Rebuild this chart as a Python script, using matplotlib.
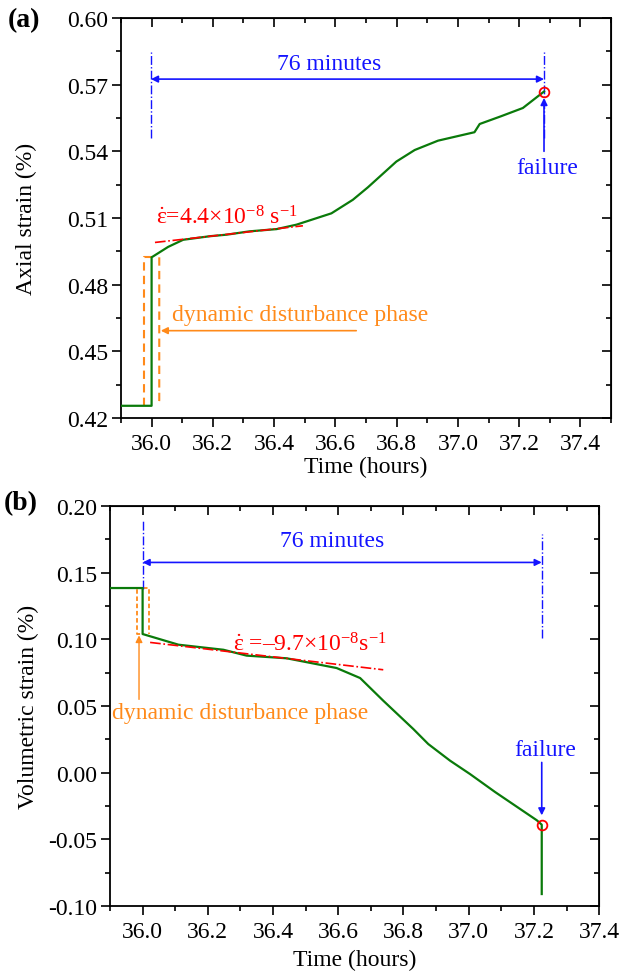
import matplotlib
matplotlib.use("Agg")
import matplotlib.pyplot as plt
from matplotlib.ticker import MultipleLocator, FormatStrFormatter, FuncFormatter

plt.rcParams['font.family'] = ['Liberation Serif', 'DejaVu Serif']
plt.rcParams['mathtext.fontset'] = 'custom'
plt.rcParams['mathtext.rm'] = 'Liberation Serif'
plt.rcParams['mathtext.it'] = 'Liberation Serif'
plt.rcParams['mathtext.bf'] = 'Liberation Serif:bold'

# ---- Panel (a): axial strain vs time ----
axial_t = [35.90, 36.00, 36.00, 36.054, 36.103, 36.19, 36.245, 36.32, 36.408,
           36.473, 36.587, 36.657, 36.706, 36.799, 36.859, 36.935, 37.054,
           37.071, 37.141, 37.212, 37.281]
axial_e = [0.4255, 0.4255, 0.4923, 0.4970, 0.5002, 0.5018, 0.5025, 0.5040, 0.5050,
           0.5070, 0.5121, 0.5182, 0.5238, 0.5354, 0.5406, 0.5448, 0.5486,
           0.5523, 0.5558, 0.5595, 0.5669]
axial_fail = (37.281, 0.5669)
axial_rate_t = [36.011, 36.494]
axial_rate_e = [0.4990, 0.5065]

# ---- Panel (b): volumetric strain vs time ----
vol_t = [35.90, 36.00, 36.00, 36.110, 36.248, 36.319, 36.442, 36.595, 36.667,
         36.738, 36.830, 36.876, 36.943, 37.004, 37.081, 37.209, 37.224, 37.224]
vol_e = [0.1385, 0.1385, 0.1040, 0.0960, 0.0922, 0.0878, 0.0858, 0.0785, 0.0710,
         0.0540, 0.0328, 0.0215, 0.0090, -0.0010, -0.0145, -0.0357, -0.0390, -0.0910]
vol_fail = (37.224, -0.0390)
vol_rate_t = [36.023, 36.738]
vol_rate_e = [0.0977, 0.0772]

GREEN = '#0a7a0a'
RED = '#ff0000'
BLUE = '#1414ff'
ORANGE = '#ff8a1a'
FS = 17

fig = plt.figure(figsize=(6.30, 9.79), dpi=100)
ax1 = fig.add_axes([0.192, 0.572, 0.778, 0.4086])
ax2 = fig.add_axes([0.1746, 0.0735, 0.7764, 0.4086])


def style_axes(ax, xlim, ylim, ymajor, yformatter):
    ax.set_xlim(*xlim)
    ax.set_ylim(*ylim)
    ax.xaxis.set_major_locator(MultipleLocator(0.2))
    ax.xaxis.set_minor_locator(MultipleLocator(0.1))
    ax.xaxis.set_major_formatter(FormatStrFormatter('%.1f'))
    ax.yaxis.set_major_locator(MultipleLocator(ymajor))
    ax.yaxis.set_minor_locator(MultipleLocator(ymajor / 2))
    ax.yaxis.set_major_formatter(yformatter)
    for s in ax.spines.values():
        s.set_linewidth(1.3)
    ax.tick_params(which='both', direction='out', width=1.2, labelsize=FS)
    ax.tick_params(which='major', length=6.5)
    ax.tick_params(which='minor', length=3.8)
    ax.tick_params(axis='y', pad=3)
    ax.tick_params(axis='x', pad=4.5)
    # top / right ticks pointing inward
    top = ax.secondary_xaxis('top')
    top.xaxis.set_major_locator(MultipleLocator(0.2))
    top.xaxis.set_minor_locator(MultipleLocator(0.1))
    top.tick_params(which='both', direction='in', width=1.2, labeltop=False)
    top.tick_params(which='major', length=6.5)
    top.tick_params(which='minor', length=3.8)
    right = ax.secondary_yaxis('right')
    right.yaxis.set_major_locator(MultipleLocator(ymajor))
    right.yaxis.set_minor_locator(MultipleLocator(ymajor / 2))
    right.tick_params(which='both', direction='in', width=1.2, labelright=False)
    right.tick_params(which='major', length=6.5)
    right.tick_params(which='minor', length=3.8)


signed_fmt = FuncFormatter(lambda v, p: ('-' if v < -1e-9 else '') + f'{abs(v):.2f}')

# ---------------- panel (a) ----------------
style_axes(ax1, (35.9, 37.5), (0.42, 0.60), 0.03, FormatStrFormatter('%.2f'))
ax1.set_xlabel('Time (hours)', fontsize=FS, labelpad=1)
ax1.set_ylabel('Axial strain (%)', fontsize=FS, labelpad=21)
ax1.plot(axial_t, axial_e, color=GREEN, lw=1.6, zorder=3)
ax1.plot(axial_rate_t, axial_rate_e, color=RED, lw=1.2, ls='-.', zorder=4)
ax1.plot(*axial_fail, 'o', ms=7, mfc='none', mec=RED, mew=1.3, zorder=5)

# disturbance phase bracket
ax1.plot([35.976, 35.976, 36.0], [0.4255, 0.4923, 0.4923], color=ORANGE, lw=1.5,
         ls=(0, (4, 2.5)), zorder=2)
ax1.plot([36.025, 36.025, 36.022], [0.4923, 0.4280, 0.4255], color=ORANGE, lw=1.5,
         ls=(0, (4, 2.5)), zorder=2)
ax1.annotate('', xy=(36.030, 0.4593), xytext=(36.668, 0.4593),
             arrowprops=dict(arrowstyle='-|>', color=ORANGE, lw=1.2, mutation_scale=10,
                             shrinkA=0, shrinkB=0))
ax1.text(36.065, 0.4668, 'dynamic disturbance phase', color=ORANGE, fontsize=FS,
         ha='left', va='center')

# 76 minutes span
for xv in (35.998, axial_fail[0]):
    ax1.plot([xv, xv], [0.5458, 0.5848], color=BLUE, lw=1.0, ls='-.')
ax1.annotate('', xy=(axial_fail[0], 0.5725), xytext=(35.998, 0.5725),
             arrowprops=dict(arrowstyle='<|-|>', color=BLUE, lw=1.2, mutation_scale=10,
                             shrinkA=0, shrinkB=0))
ax1.text(36.58, 0.5797, '76 minutes', color=BLUE, fontsize=FS, ha='center', va='center')

# failure marker
ax1.annotate('', xy=(axial_fail[0], 0.5640), xytext=(axial_fail[0], 0.5400),
             arrowprops=dict(arrowstyle='-|>', color=BLUE, lw=1.2, mutation_scale=10,
                             shrinkA=0, shrinkB=0))
ax1.text(37.29, 0.5325, 'failure', color=BLUE, fontsize=FS, ha='center', va='center')

ax1.text(36.016, 0.5075, r'$\dot{\varepsilon}$=4.4×10$^{\mathrm{-8}}$ s$^{\mathrm{-1}}$',
         color=RED, fontsize=FS, ha='left', va='baseline')

fig.text(0.012, 0.979, '(a)', fontsize=20, fontweight='bold', ha='left', va='center')

# ---------------- panel (b) ----------------
style_axes(ax2, (35.9, 37.4), (-0.10, 0.20), 0.05, signed_fmt)
ax2.set_xlabel('Time (hours)', fontsize=FS, labelpad=5)
ax2.set_ylabel('Volumetric strain (%)', fontsize=FS, labelpad=6)
ax2.plot(vol_t, vol_e, color=GREEN, lw=1.6, zorder=3)
ax2.plot(vol_rate_t, vol_rate_e, color=RED, lw=1.2, ls='-.', zorder=4)
ax2.plot(*vol_fail, 'o', ms=7, mfc='none', mec=RED, mew=1.3, zorder=5)

ax2.plot([36.0, 35.982, 35.982, 36.0], [0.1385, 0.1385, 0.1040, 0.1040], color=ORANGE,
         lw=1.3, ls=(0, (2.5, 1.5)), zorder=2)
ax2.plot([36.0, 36.02, 36.02], [0.1385, 0.1385, 0.1040], color=ORANGE,
         lw=1.3, ls=(0, (2.5, 1.5)), zorder=2)
ax2.annotate('', xy=(35.989, 0.1030), xytext=(35.989, 0.0550),
             arrowprops=dict(arrowstyle='-|>', color=ORANGE, lw=1.0, mutation_scale=10,
                             shrinkA=0, shrinkB=0))
ax2.text(35.905, 0.0455, 'dynamic disturbance phase', color=ORANGE, fontsize=FS,
         ha='left', va='center')

ax2.plot([36.0, 36.0], [0.1380, 0.1890], color=BLUE, lw=1.0, ls='-.')
ax2.plot([vol_fail[0], vol_fail[0]], [0.1008, 0.1790], color=BLUE, lw=1.0, ls='-.')
ax2.annotate('', xy=(vol_fail[0], 0.1577), xytext=(36.0, 0.1577),
             arrowprops=dict(arrowstyle='<|-|>', color=BLUE, lw=1.2, mutation_scale=10,
                             shrinkA=0, shrinkB=0))
ax2.text(36.58, 0.1740, '76 minutes', color=BLUE, fontsize=FS, ha='center', va='center')

ax2.annotate('', xy=(vol_fail[0], -0.0320), xytext=(vol_fail[0], 0.0077),
             arrowprops=dict(arrowstyle='-|>', color=BLUE, lw=1.2, mutation_scale=10,
                             shrinkA=0, shrinkB=0))
ax2.text(37.236, 0.0177, 'failure', color=BLUE, fontsize=FS, ha='center', va='center')

ax2.text(36.278, 0.0915, r'$\dot{\varepsilon}$ =–9.7×10$^{\mathrm{-8}}$s$^{\mathrm{-1}}$',
         color=RED, fontsize=FS, ha='left', va='baseline')

fig.text(0.006, 0.486, '(b)', fontsize=20, fontweight='bold', ha='left', va='center')

fig.savefig('out.png', dpi=100)
